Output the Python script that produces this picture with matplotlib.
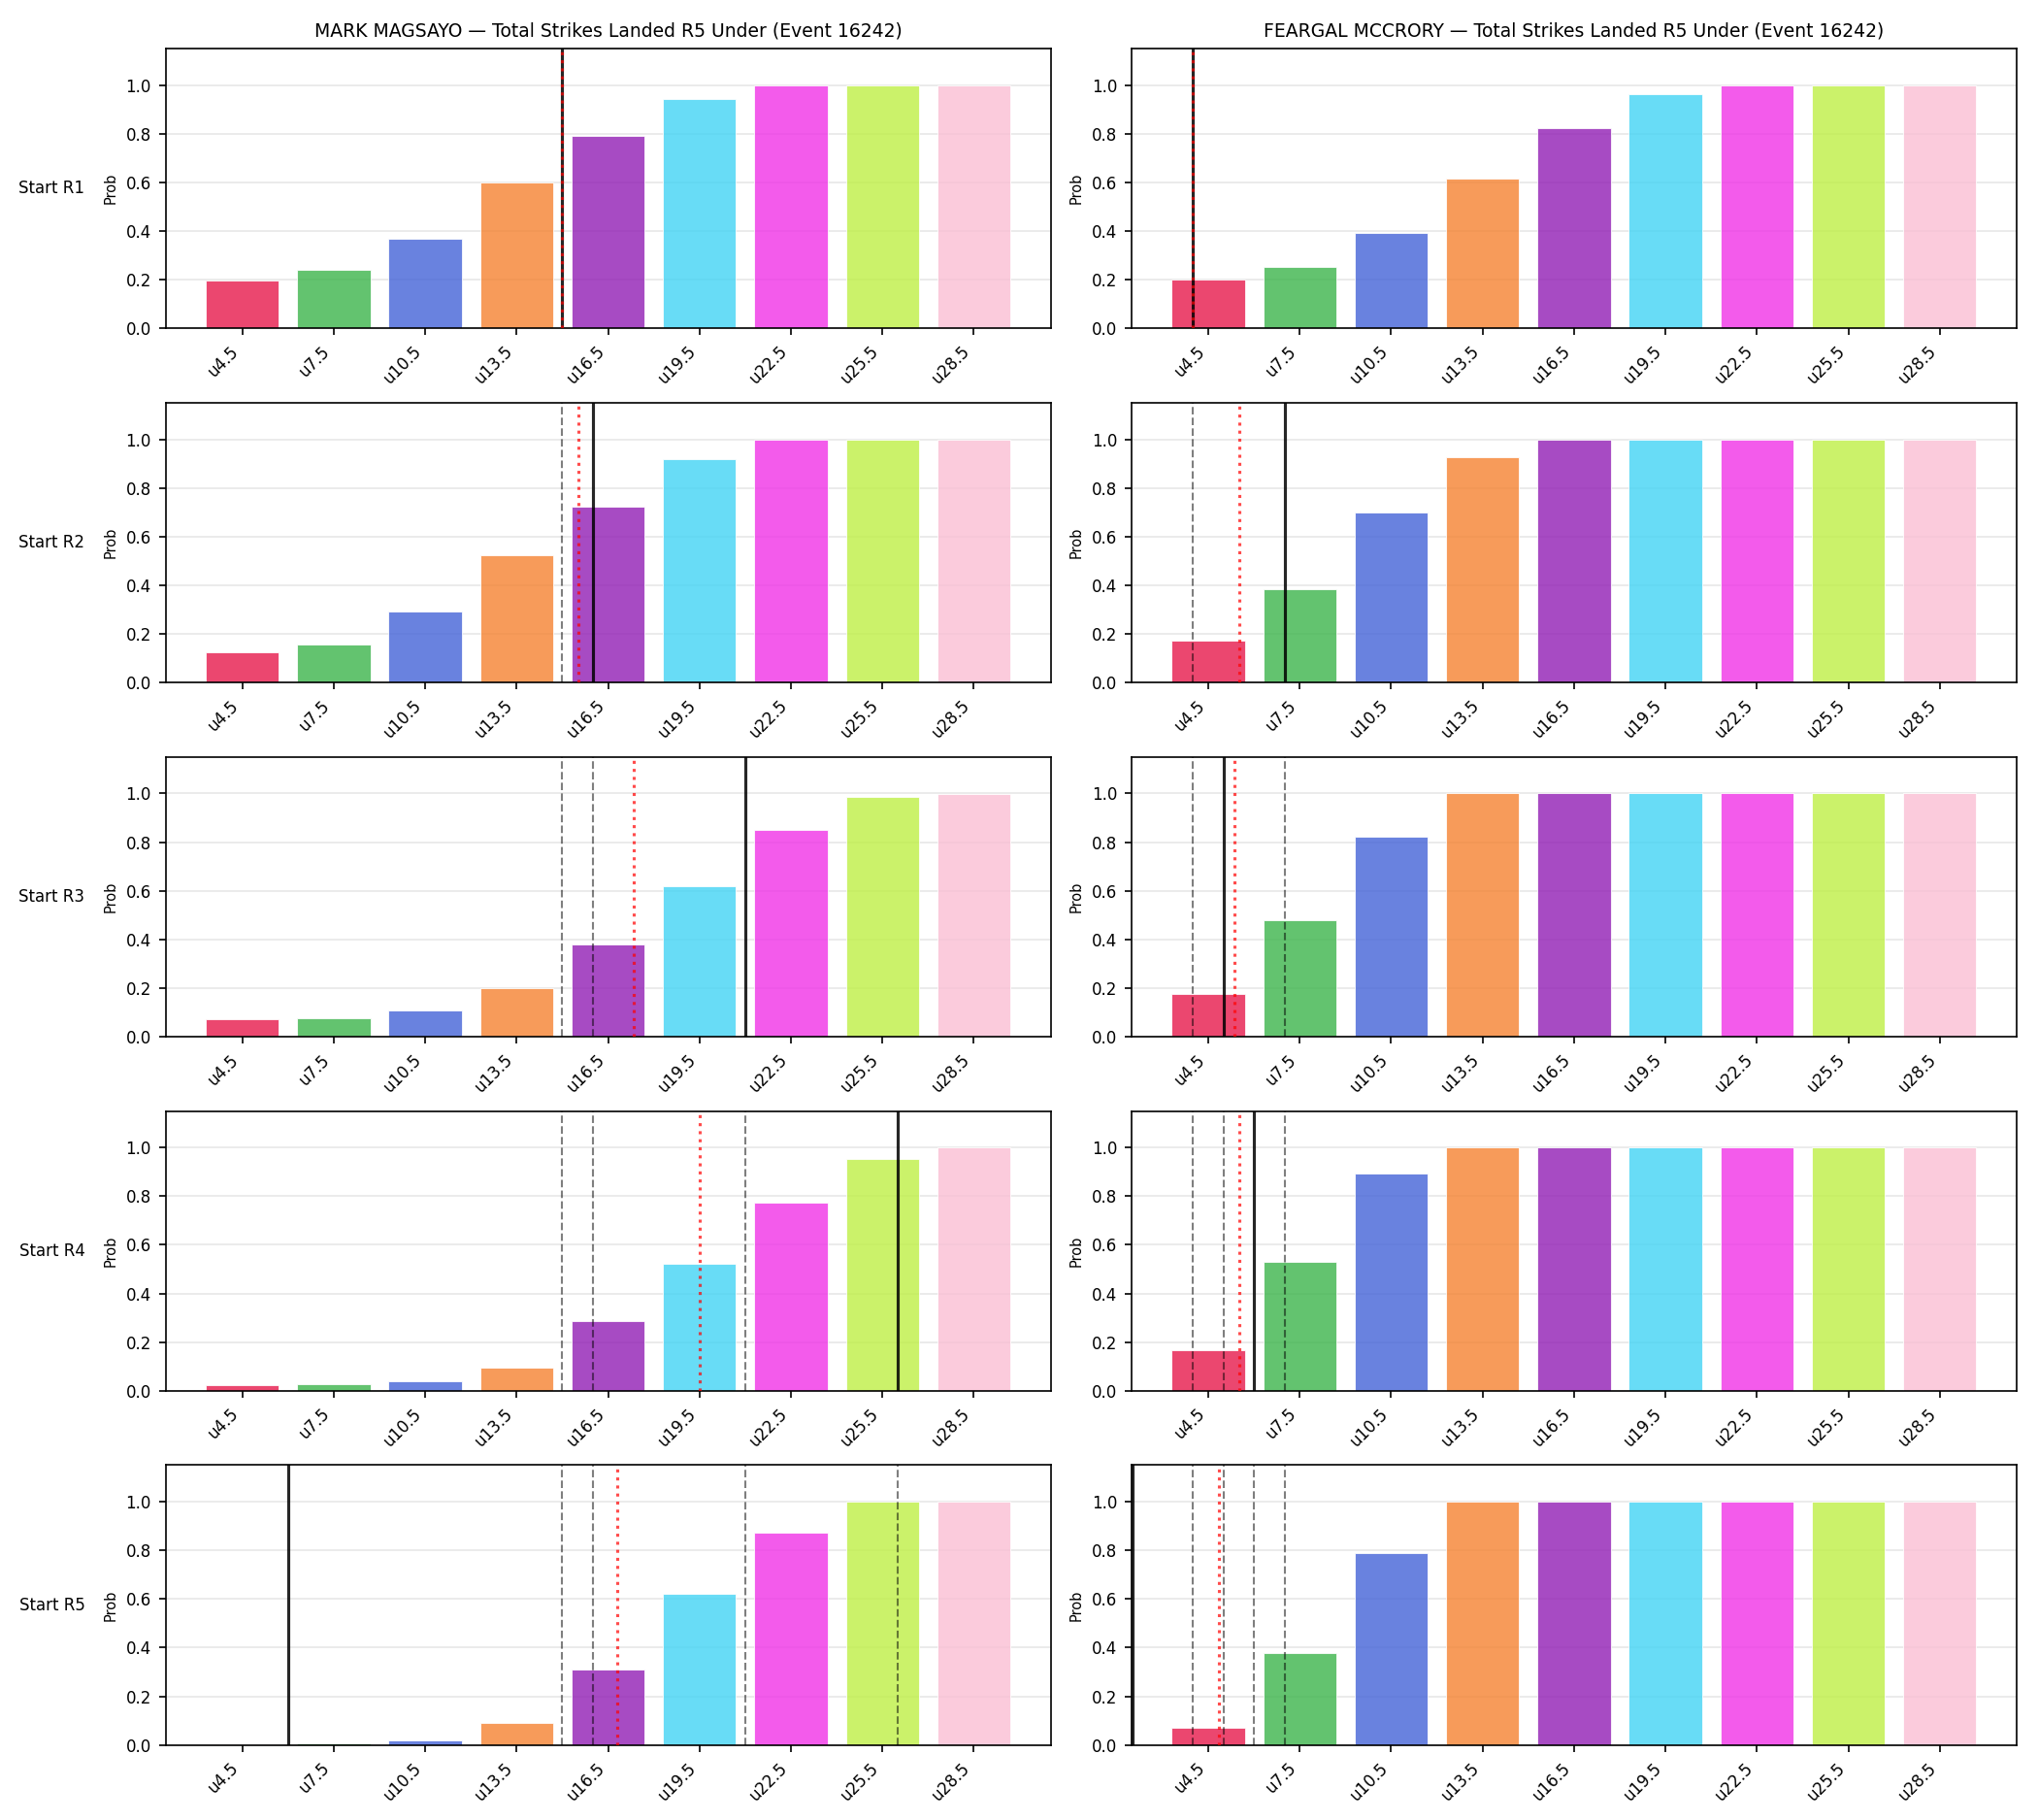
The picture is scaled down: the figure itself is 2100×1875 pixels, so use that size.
import numpy as np
import matplotlib
matplotlib.use("Agg")
import matplotlib.pyplot as plt

# ---------------- data ----------------
line_labels = ["u4.5", "u7.5", "u10.5", "u13.5", "u16.5", "u19.5", "u22.5", "u25.5", "u28.5"]
line_values = [4.5, 7.5, 10.5, 13.5, 16.5, 19.5, 22.5, 25.5, 28.5]
row_labels = ["Start R1", "Start R2", "Start R3", "Start R4", "Start R5"]

fighters = ["MARK MAGSAYO", "FEARGAL MCCRORY"]
market = "Total Strikes Landed R5 Under (Event 16242)"

magsayo_probs = [
    [0.197, 0.241, 0.369, 0.598, 0.790, 0.941, 0.999, 1.000, 1.000],
    [0.124, 0.156, 0.293, 0.525, 0.722, 0.918, 0.999, 1.000, 1.000],
    [0.071, 0.075, 0.107, 0.199, 0.380, 0.617, 0.850, 0.987, 0.999],
    [0.024, 0.028, 0.040, 0.096, 0.285, 0.521, 0.774, 0.953, 1.000],
    [0.001, 0.008, 0.017, 0.092, 0.309, 0.620, 0.874, 0.999, 1.000],
]
mccrory_probs = [
    [0.200, 0.251, 0.393, 0.614, 0.822, 0.961, 1.000, 1.000, 1.000],
    [0.172, 0.384, 0.698, 0.926, 1.000, 1.000, 1.000, 1.000, 1.000],
    [0.175, 0.477, 0.821, 1.000, 1.000, 1.000, 1.000, 1.000, 1.000],
    [0.168, 0.529, 0.894, 1.000, 1.000, 1.000, 1.000, 1.000, 1.000],
    [0.072, 0.377, 0.790, 1.000, 1.000, 1.000, 1.000, 1.000, 1.000],
]

# current (solid) and expected (dotted) strike values per round start
magsayo_current = [15, 16, 21, 26, 6]
magsayo_expected = [15.0, 15.53, 17.34, 19.5, 16.8]
mccrory_current = [4, 7, 5, 6, 2]
mccrory_expected = [4.0, 5.53, 5.35, 5.53, 4.84]

colors = ["#e6194b", "#3cb44b", "#4363d8", "#f58231", "#911eb4",
          "#42d4f4", "#f032e6", "#bfef45", "#fabed4"]

all_probs = [magsayo_probs, mccrory_probs]
all_current = [magsayo_current, mccrory_current]
all_expected = [magsayo_expected, mccrory_expected]

# ---------------- plot ----------------
fig, axes = plt.subplots(5, 2, figsize=(14, 12.5), dpi=150)
fig.subplots_adjust(left=0.0812, right=0.9895, top=0.9733, bottom=0.0412,
                    wspace=0.0914, hspace=0.2656)

x = np.arange(len(line_labels))
step = line_values[1] - line_values[0]


def to_pos(v):
    return (v - line_values[0]) / step


for c in range(2):
    for r in range(5):
        ax = axes[r, c]
        ax.bar(x, all_probs[c][r], color=colors, alpha=0.8,
               edgecolor="white", linewidth=0.5, zorder=2)
        ax.set_xlim(-0.84, 8.84)
        ax.set_ylim(0, 1.15)
        ax.set_xticks(x)
        ax.set_xticklabels(line_labels, rotation=45, ha="right", fontsize=8)
        ax.tick_params(axis="y", labelsize=8)
        ax.set_yticks([0.0, 0.2, 0.4, 0.6, 0.8, 1.0])
        ax.grid(axis="y", alpha=0.3, zorder=0)
        ax.set_axisbelow(True)
        ax.set_ylabel("Prob", fontsize=7)
        # previous rounds' current values
        for pr in range(r):
            ax.axvline(to_pos(all_current[c][pr]), color="k", linestyle="--",
                       linewidth=1.0, alpha=0.5, zorder=3)
        ax.axvline(to_pos(all_current[c][r]), color="k", linestyle="-",
                   linewidth=1.5, alpha=0.85, zorder=4)
        ax.axvline(to_pos(all_expected[c][r]), color="red", linestyle=":",
                   linewidth=1.5, alpha=0.7, zorder=5)
        if r == 0:
            ax.set_title(f"{fighters[c]} — {market}", fontsize=9)
        if c == 0:
            ax.annotate(row_labels[r], xy=(0, 0.5),
                        xytext=(-ax.yaxis.labelpad - 5, 0),
                        xycoords=ax.yaxis.label, textcoords="offset points",
                        fontsize=8, ha="right", va="center")

fig.savefig("out.png", dpi=150)
